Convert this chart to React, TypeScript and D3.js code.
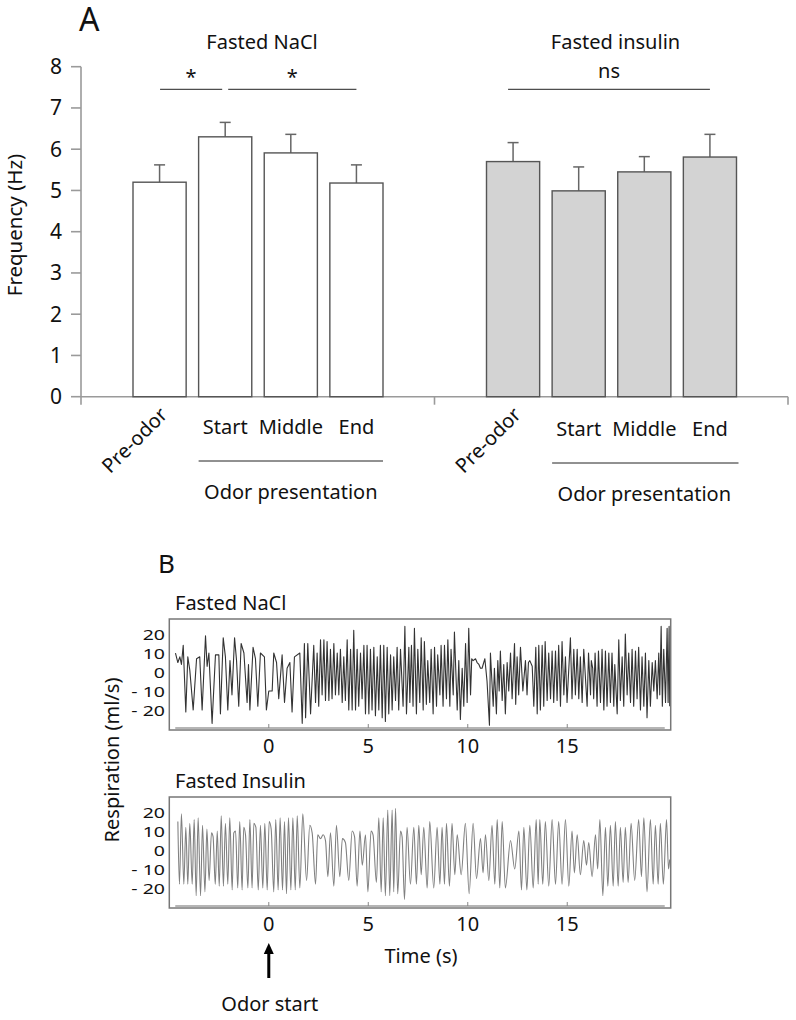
import React from "react";
import * as d3 from "d3";

const FONT = "'Noto Sans', 'Open Sans', sans-serif";

// ---------- Panel A data ----------
const groups = ["Fasted NaCl", "Fasted insulin"];
const phases = ["Pre-odor", "Start", "Middle", "End"];
const naclMean = [5.2, 6.3, 5.91, 5.18];
const naclSem = [0.42, 0.35, 0.45, 0.44];
const insulinMean = [5.7, 4.99, 5.45, 5.81];
const insulinSem = [0.46, 0.58, 0.37, 0.55];
const freqTicks = [0, 1, 2, 3, 4, 5, 6, 7, 8];
const sigGroup = [0, 0, 1];
const sigFrom = [0, 1, 0];
const sigTo = [1, 3, 3];
const sigLabel = ["*", "*", "ns"];

// ---------- Panel B data ----------
const timeTicks = [0, 5, 10, 15];
const respTicks = [20, 10, 0, -10, -20];
const traceTitles = ["Fasted NaCl", "Fasted Insulin"];

const naclT = [-4.69,-4.57,-4.47,-4.39,-4.30,-4.17,-4.07,-3.97,-3.80,-3.63,-3.47,-3.35,-3.18,-3.10,-3.01,-2.85,-2.68,-2.51,-2.43,-2.29,-2.18,-2.06,-1.95,-1.85,-1.72,-1.62,-1.51,-1.39,-1.25,-1.09,-1.02,-0.95,-0.79,-0.67,-0.55,-0.42,-0.22,-0.12,0.00,0.17,0.25,0.39,0.50,0.67,0.79,0.92,1.06,1.17,1.29,1.56,1.68,1.79,1.85,1.96,2.10,2.26,2.35,2.43,2.51,2.60,2.68,2.77,2.85,2.93,3.02,3.10,3.18,3.27,3.35,3.44,3.52,3.60,3.69,3.77,3.85,3.94,4.02,4.11,4.19,4.27,4.36,4.44,4.52,4.61,4.69,4.78,4.86,4.94,5.03,5.11,5.19,5.28,5.36,5.45,5.53,5.61,5.70,5.78,5.86,5.95,6.03,6.12,6.20,6.28,6.37,6.45,6.53,6.62,6.75,6.84,6.92,7.04,7.09,7.17,7.25,7.32,7.42,7.49,7.59,7.66,7.76,7.82,7.92,7.99,8.09,8.16,8.26,8.33,8.43,8.49,8.60,8.66,8.76,8.83,8.93,9.00,9.10,9.16,9.27,9.33,9.47,9.55,9.63,9.72,9.80,9.89,9.97,10.05,10.14,10.20,10.27,10.39,10.47,10.56,10.64,10.72,10.86,10.97,11.09,11.14,11.28,11.34,11.44,11.51,11.58,11.64,11.73,11.81,11.89,11.98,12.06,12.15,12.23,12.35,12.41,12.48,12.56,12.65,12.77,12.90,12.98,13.05,13.12,13.24,13.32,13.42,13.49,13.57,13.65,13.74,13.82,13.89,13.99,14.07,14.16,14.24,14.32,14.41,14.49,14.57,14.66,14.74,14.83,14.91,14.99,15.16,15.24,15.33,15.41,15.50,15.58,15.66,15.75,15.83,16.00,16.07,16.17,16.21,16.28,16.33,16.40,16.50,16.57,16.67,16.75,16.84,16.92,17.00,17.09,17.17,17.25,17.34,17.39,17.51,17.59,17.67,17.76,17.84,17.92,18.01,18.09,18.18,18.26,18.34,18.43,18.51,18.59,18.68,18.76,18.85,18.93,19.01,19.10,19.18,19.27,19.35,19.43,19.52,19.60,19.65,19.72,19.78,19.85,19.94,20.02,20.07,20.12,20.15];
const naclFlow = [10,5,8,4,14,-21,8,1,-20,7,8,-20,19,3,10,-27,9,9,-22,18,8,-20,6,-12,18,6,-18,15,10,-16,4,-20,13,7,-18,10,8,-20,-10,-10,10,5,-14,9,-16,2,5,-21,8,10,-27,15,-24,15,-22,14,-16,10,-18,17,-12,17,-15,16,-15,12,-14,15,-12,10,-12,12,-16,8,-15,17,-20,12,-20,22,-20,12,-18,10,-14,14,-22,14,-22,12,-20,13,-23,8,-20,14,-24,14,-26,13,-22,9,-20,8,-15,13,-20,12,-18,24,-22,13,-16,14,-18,23,-22,12,-16,18,-20,16,-17,6,-16,12,-22,13,-18,9,-12,14,-18,14,-14,17,-18,12,-12,21,-20,6,-25,2,-18,15,-16,23,-12,7,6,7,5,4,2,2,7,-5,-28,10,-18,2,-22,6,-10,11,-15,4,-22,5,-10,10,-14,15,-17,8,-12,13,-10,6,-12,5,6,3,-18,13,-22,14,-20,14,-18,16,-15,10,-14,11,-16,11,-15,14,-18,16,-12,8,-16,18,-14,12,-12,12,-14,8,-16,12,-18,10,-12,6,2,-14,10,-18,11,-16,12,-20,11,-18,10,-16,10,-18,4,-22,17,-15,8,-18,20,-12,10,-16,12,-18,11,-14,13,-20,8,-18,10,-24,6,-18,5,-10,6,-14,10,-12,24,-18,12,-16,23,-16,24,-18];

const insT = [-4.57,-4.49,-4.39,-4.27,-4.17,-4.07,-3.97,-3.85,-3.75,-3.65,-3.55,-3.43,-3.33,-3.21,-3.11,-3.00,-2.88,-2.80,-2.69,-2.59,-2.49,-2.39,-2.28,-2.18,-2.06,-1.96,-1.84,-1.76,-1.67,-1.56,-1.46,-1.34,-1.26,-1.17,-1.05,-0.95,-0.84,-0.75,-0.65,-0.53,-0.42,-0.30,-0.20,-0.08,0.02,0.12,0.25,0.35,0.47,0.57,0.69,0.79,0.89,0.99,1.11,1.21,1.33,1.43,1.56,1.71,1.90,2.06,2.18,2.35,2.46,2.60,2.73,2.85,2.97,3.10,3.27,3.40,3.57,3.70,3.85,4.02,4.19,4.31,4.44,4.58,4.70,4.86,4.98,5.14,5.24,5.41,5.53,5.65,5.75,5.86,5.98,6.08,6.20,6.28,6.37,6.48,6.62,6.70,6.82,6.95,7.12,7.29,7.42,7.54,7.66,7.79,7.96,8.09,8.29,8.46,8.60,8.71,8.83,8.93,9.08,9.21,9.35,9.47,9.67,9.88,10.07,10.27,10.44,10.64,10.77,10.89,11.06,11.22,11.36,11.48,11.61,11.73,11.89,12.15,12.36,12.57,12.70,12.82,12.97,13.12,13.29,13.44,13.54,13.62,13.77,13.90,14.07,14.24,14.41,14.57,14.74,14.91,15.08,15.24,15.36,15.50,15.66,15.83,15.97,16.08,16.25,16.42,16.53,16.64,16.79,16.92,17.04,17.17,17.31,17.42,17.56,17.67,17.81,17.92,18.06,18.21,18.39,18.59,18.73,18.85,19.01,19.18,19.32,19.43,19.57,19.68,19.83,19.99,20.09,20.15];
const insFlow = [15,-18,19,-18,12,-18,14,-18,16,-24,17,-24,13,-22,11,-16,9,7,-18,10,-19,18,-19,14,-18,17,-21,9,10,-20,15,-21,12,8,-20,16,-20,14,12,-21,13,-20,14,-21,15,11,-22,16,-21,17,-21,15,-23,17,-21,17,-21,18,-20,19,-16,13,9,-18,8,6,8,5,-14,9,-19,13,-14,6,4,-16,10,7,-19,10,-8,8,-22,10,8,-17,17,-22,17,-24,21,-24,21,-22,22,-23,10,7,-26,12,-18,12,-18,13,-13,12,-20,15,-20,12,-18,12,-18,14,-19,14,-13,8,-13,14,-23,14,-15,6,-12,8,-16,13,-18,16,-20,15,-20,5,-10,10,-21,12,-21,13,-20,16,-18,16,-18,15,-19,16,-18,15,-18,16,-19,10,-12,8,-13,5,-8,4,-14,8,-10,16,-24,12,-19,13,-19,15,-19,12,-17,12,-17,14,-16,16,-14,17,-22,16,-18,13,-18,14,-18,16,-10,-5];

export default function App() {
  // ----- Panel A scales -----
  const xGroup = d3.scaleBand<string>().domain(groups).range([81, 788]);
  const xPhase = d3.scaleBand<string>().domain(phases).range([52, 302]).paddingInner(0.19);
  const yA = d3.scaleLinear().domain([0, 8]).range([396.7, 66.7]);
  const means = [naclMean, insulinMean];
  const sems = [naclSem, insulinSem];
  const fills = ["#ffffff", "#d3d3d3"];
  const bw = xPhase.bandwidth();
  const cx = (g: number, p: number) => (xGroup(groups[g]) as number) + (xPhase(phases[p]) as number) + bw / 2;
  const left = (g: number, p: number) => (xGroup(groups[g]) as number) + (xPhase(phases[p]) as number);

  // ----- Panel B scales -----
  const xB = d3.scaleLinear().domain([-5, 20.2]).range([169.3, 670.7]);
  const boxTop = [619, 797];
  const boxBottom = [730, 908];
  const yB = boxTop.map((t, i) => d3.scaleLinear().domain([-30.5, 27.9]).range([boxBottom[i], t]));
  const traces = [
    { t: naclT, v: naclFlow, color: "#333333", curve: d3.curveLinear },
    { t: insT, v: insFlow, color: "#808080", curve: d3.curveMonotoneX },
  ];
  const fmtResp = (v: number) => (v < 0 ? "- " + Math.abs(v) : String(v));

  return (
    <svg width={796} height={1020} style={{ position: "absolute", left: 0, top: 0, background: "#fff" }} fontFamily={FONT}>
      <rect x={0} y={0} width={796} height={1020} fill="#fff" />
      {/* ================= Panel A ================= */}
      <text x={79} y={31} fontSize={32} fill="#111">A</text>
      {groups.map((g) => (
        <text key={g} x={(xGroup(g) as number) + 52 + 125 + 4} y={48.5} fontSize={20} textAnchor="middle" fill="#111">{g}</text>
      ))}
      {/* y axis */}
      <line x1={81} x2={81} y1={yA(8)} y2={yA(0)} stroke="#9a9a9a" strokeWidth={1.6} />
      {freqTicks.map((t) => (
        <g key={t}>
          <line x1={71} x2={81} y1={yA(t)} y2={yA(t)} stroke="#9a9a9a" strokeWidth={1.6} />
          <text x={62} y={yA(t) + 7.5} fontSize={21} textAnchor="end" fill="#111">{t}</text>
        </g>
      ))}
      <text transform={`translate(22,225) rotate(-90)`} fontSize={20.5} textAnchor="middle" fill="#111">Frequency (Hz)</text>
      {/* x axis */}
      <line x1={81} x2={788} y1={yA(0)} y2={yA(0)} stroke="#9a9a9a" strokeWidth={1.6} />
      {[81, (xGroup(groups[1]) as number), 788].map((x, i) => (
        <line key={i} x1={x} x2={x} y1={yA(0)} y2={yA(0) + 8} stroke="#9a9a9a" strokeWidth={1.6} />
      ))}
      {/* bars */}
      {groups.map((g, gi) =>
        phases.map((p, pi) => {
          const m = means[gi][pi];
          const e = sems[gi][pi];
          const c = cx(gi, pi);
          return (
            <g key={g + p}>
              <line x1={c} x2={c} y1={yA(m)} y2={yA(m + e)} stroke="#666" strokeWidth={1.5} />
              <line x1={c - 5.5} x2={c + 5.5} y1={yA(m + e)} y2={yA(m + e)} stroke="#666" strokeWidth={1.5} />
              <rect x={left(gi, pi)} y={yA(m)} width={bw} height={yA(0) - yA(m)} fill={fills[gi]} stroke="#555" strokeWidth={1.4} />
            </g>
          );
        })
      )}
      {/* significance */}
      {sigLabel.map((lab, i) => {
        const x1 = cx(sigGroup[i], sigFrom[i]) + (sigFrom[i] === 0 ? (sigGroup[i] === 0 ? 0.5 : -5) : 3);
        const x2 = cx(sigGroup[i], sigTo[i]) + (sigTo[i] === 1 ? -3 : 0);
        return (
          <g key={i}>
            <line x1={x1} x2={x2} y1={89.3} y2={89.3} stroke="#222" strokeWidth={1} />
            <text x={(x1 + x2) / 2} y={lab === "ns" ? 78 : 84} fontSize={20} textAnchor="middle" fill="#111">{lab}</text>
          </g>
        );
      })}
      {/* category labels */}
      {groups.map((g, gi) => {
        const l = left(gi, 1);
        const r = left(gi, 3) + bw;
        return (
          <g key={"lab" + g}>
            <text transform={`translate(${cx(gi, 0) + 9},416) rotate(-45)`} fontSize={20} textAnchor="end" fill="#111">{phases[0]}</text>
            {phases.slice(1).map((p, pi) => (
              <text key={p} x={cx(gi, pi + 1)} y={434 + gi * 1.5} fontSize={20} textAnchor="middle" fill="#111">{p}</text>
            ))}
            <line x1={l} x2={r + gi * 2} y1={461 + gi * 2} y2={461 + gi * 2} stroke="#222" strokeWidth={1} />
            <text x={(l + r) / 2} y={499 + gi * 1.5} fontSize={20} textAnchor="middle" fill="#111">Odor presentation</text>
          </g>
        );
      })}

      {/* ================= Panel B ================= */}
      <text x={158} y={573} fontSize={26} fill="#111">B</text>
      <text transform={`translate(119,760) rotate(-90)`} fontSize={20} textAnchor="middle" fill="#111">Respiration (ml/s)</text>
      {traces.map((tr, i) => {
        const y = yB[i];
        const pts: [number, number][] = tr.t.map((t, k) => [xB(t), y(tr.v[k])]);
        const line = d3.line().curve(tr.curve);
        return (
          <g key={i}>
            <text x={175} y={boxTop[i] - 9} fontSize={20} fill="#111">{traceTitles[i]}</text>
            <path d={line(pts) || ""} fill="none" stroke={tr.color} strokeWidth={1.1} strokeLinejoin="round" />
            <rect x={xB(-5)} y={boxTop[i]} width={xB(20.2) - xB(-5)} height={boxBottom[i] - boxTop[i]} fill="none" stroke="#777" strokeWidth={1.5} />
            <line x1={xB(-4.7)} x2={xB(19.9)} y1={boxBottom[i] - 2} y2={boxBottom[i] - 2} stroke="#b5b5b5" strokeWidth={2} />
            {timeTicks.map((t) => (
              <g key={t}>
                <line x1={xB(t)} x2={xB(t)} y1={boxBottom[i] - 2} y2={boxBottom[i] - 6} stroke="#888" strokeWidth={1} />
                <text x={xB(t)} y={boxBottom[i] + 23} fontSize={20} textAnchor="middle" fill="#111">{t}</text>
              </g>
            ))}
            {respTicks.map((v) => (
              <text key={v} transform={`translate(165,${y(v) + 5.5}) scale(1.3,1)`} fontSize={15} textAnchor="end" fill="#111">{fmtResp(v)}</text>
            ))}
          </g>
        );
      })}
      <text x={421} y={963} fontSize={20} textAnchor="middle" fill="#111">Time (s)</text>
      {/* odor start arrow */}
      <line x1={xB(0)} x2={xB(0)} y1={978} y2={952} stroke="#000" strokeWidth={3} />
      <path d={`M${xB(0)},943 L${xB(0) - 5},954 L${xB(0) + 5},954 Z`} fill="#000" />
      <text x={xB(0) + 1} y={1011} fontSize={20} textAnchor="middle" fill="#111">Odor start</text>
    </svg>
  );
}
